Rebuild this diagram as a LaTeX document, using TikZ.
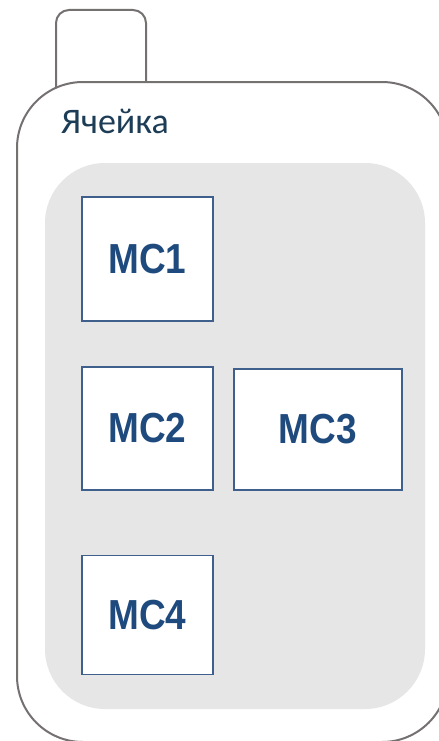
\documentclass[tikz,border=0pt]{standalone}
\usepackage{fontspec}
\setmainfont{Carlito}
\newfontfamily\mcfont{Liberation Sans}[FakeStretch=0.88]
\definecolor{framegray}{HTML}{767171}
\definecolor{panelgray}{HTML}{E6E6E6}
\definecolor{labelblue}{HTML}{1D3D57}
\definecolor{mcblue}{HTML}{1F4A7E}
\definecolor{mcedge}{HTML}{3F5F8C}
\tikzset{
  frame/.style={draw=framegray, line width=2bp},
  mcbox/.style={draw=mcedge, fill=white, line width=1.1bp, inner sep=0pt,
    text=mcblue, font=\mcfont\bfseries\fontsize{42bp}{42bp}\selectfont},
}
\begin{document}
\begin{tikzpicture}[x=1bp, y=-1bp]
  \useasboundingbox (0,0) rectangle (439,741);
  \clip (0,0) rectangle (439,741);
  % handle tab on top of the cell
  \draw[frame, rounded corners=13bp] (56,120) -- (56,10) -- (146,10) -- (146,120);
  % cell body
  \draw[frame, fill=white, rounded corners=66bp] (17,82) rectangle (448,742);
  % inner panel
  \fill[panelgray, rounded corners=60bp] (45,163) rectangle (425,709);
  \node[anchor=base west, inner sep=0pt, text=labelblue,
        font=\fontsize{36bp}{36bp}\selectfont] (cell) at (61,133) {Ячейка};
  % modules
  \node[mcbox, minimum width=131bp, minimum height=124bp] (mc1) at (147.5,259) {MC1};
  \node[mcbox, minimum width=131bp, minimum height=123bp] (mc2) at (147.5,428.5) {MC2};
  \node[mcbox, minimum width=168bp, minimum height=121bp] (mc3) at (318,429.5) {MC3};
  \node[mcbox, minimum width=131bp, minimum height=119bp] (mc4) at (147.5,615) {MC4};
\end{tikzpicture}
\end{document}
